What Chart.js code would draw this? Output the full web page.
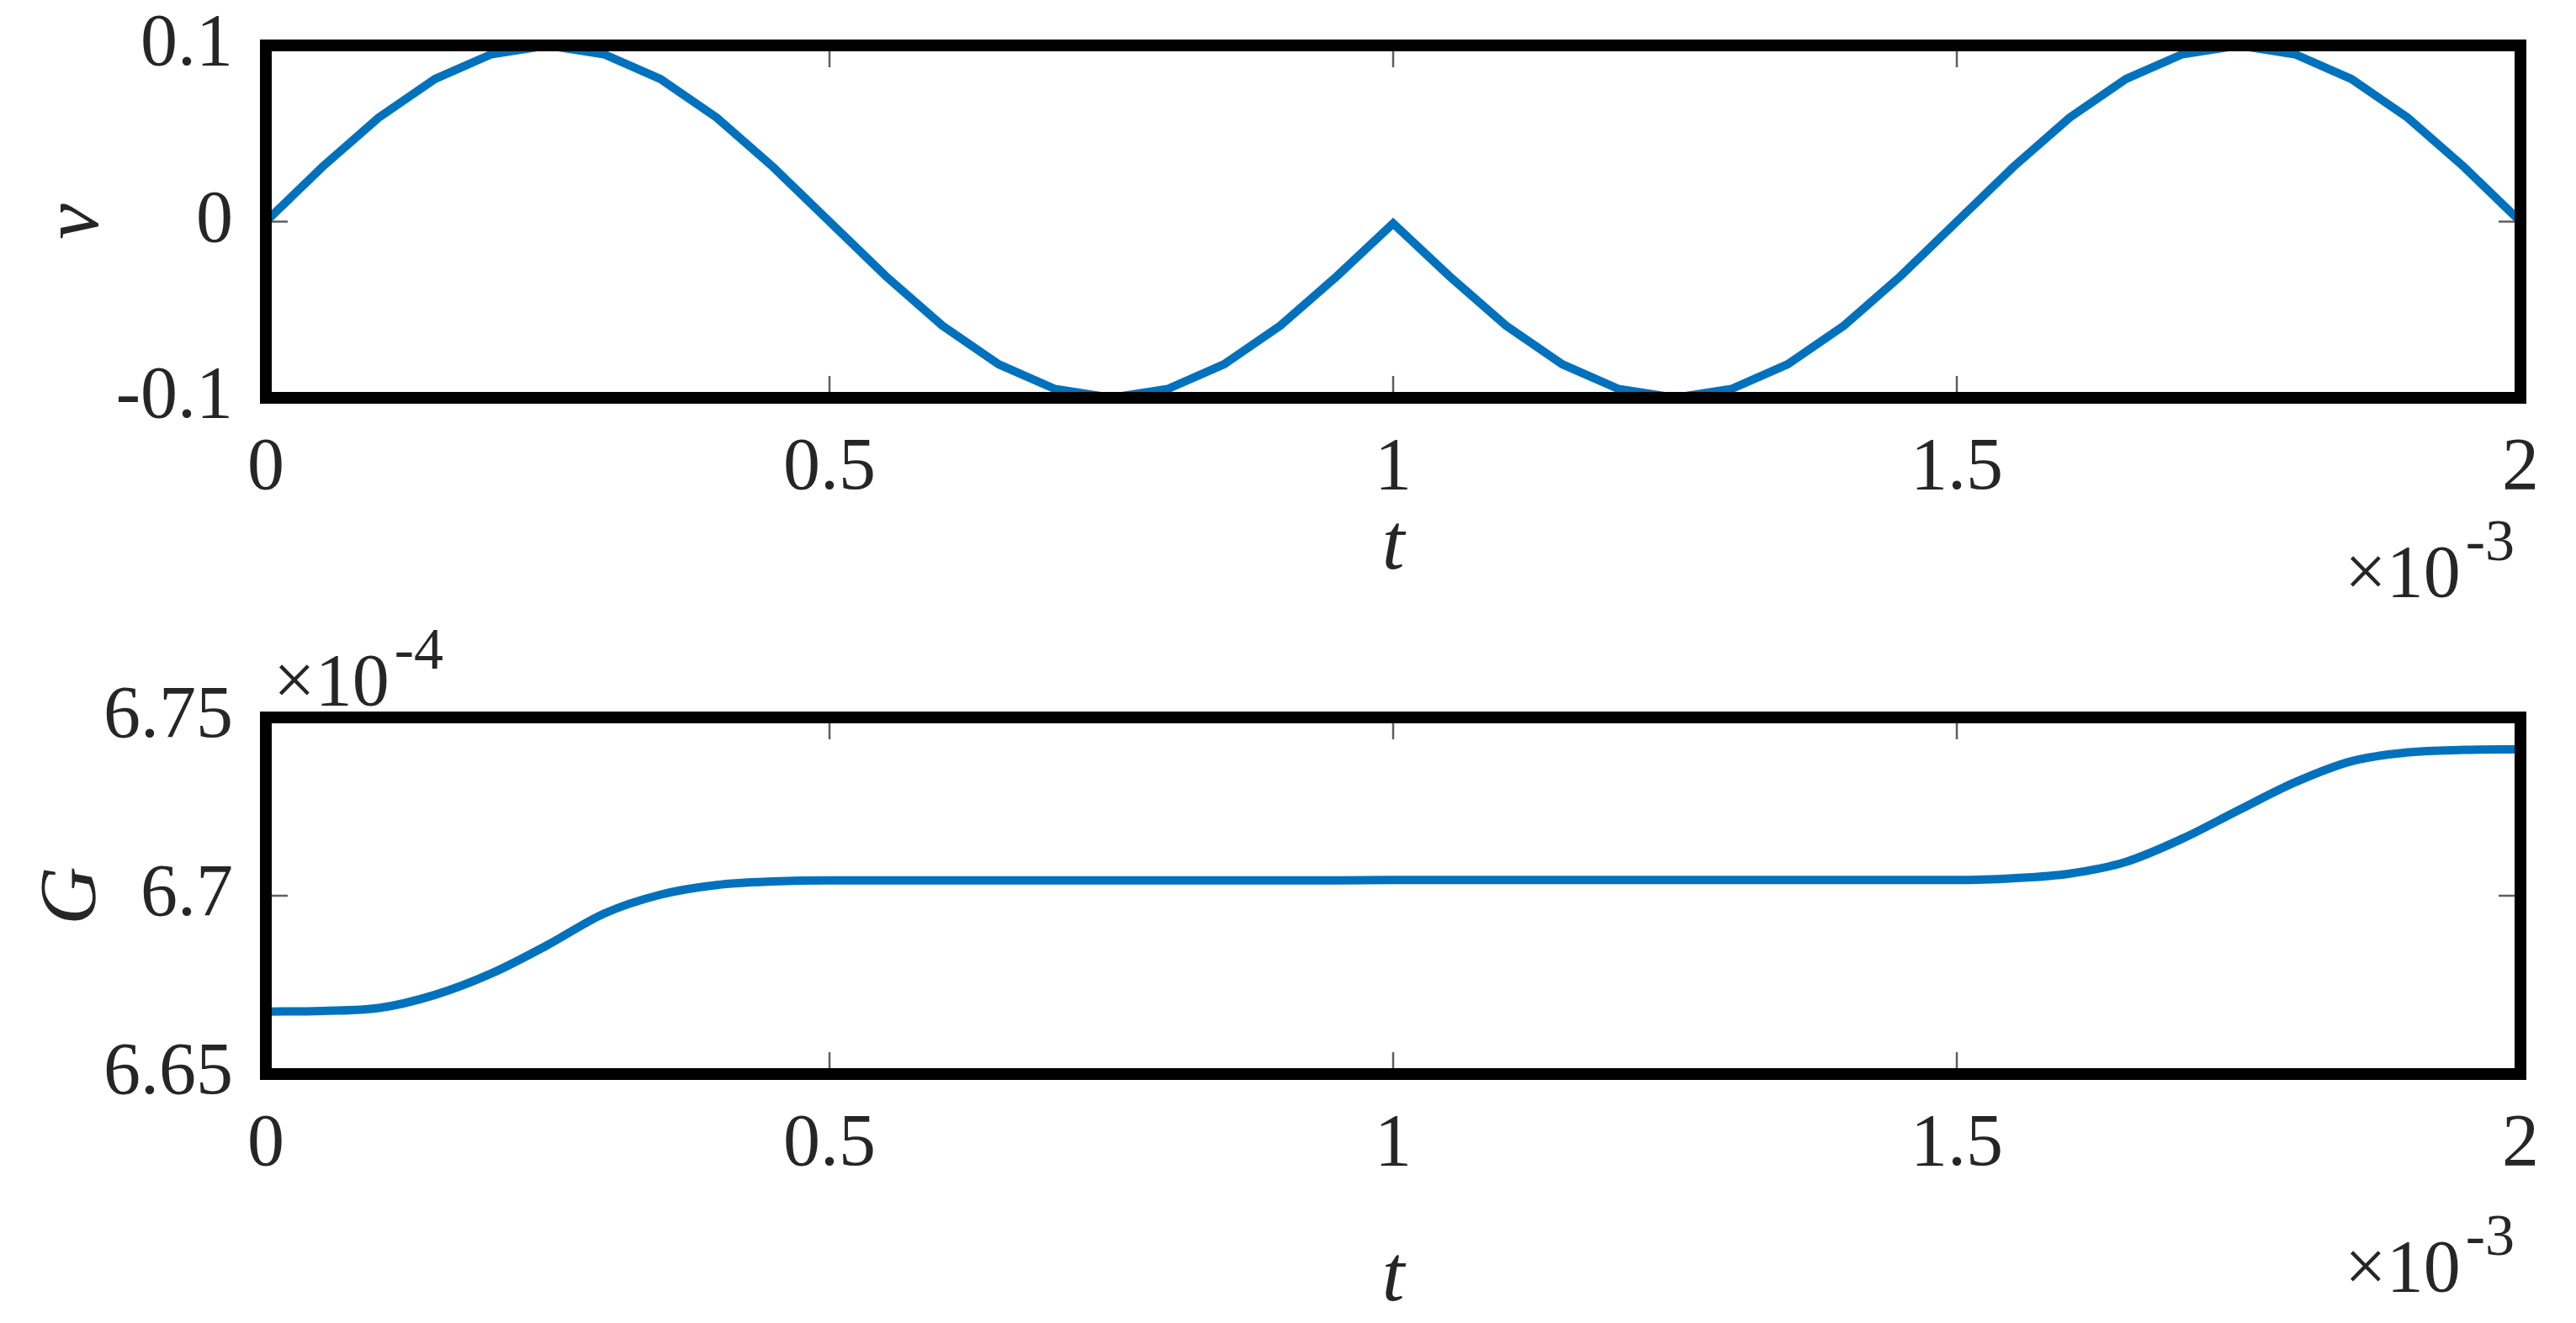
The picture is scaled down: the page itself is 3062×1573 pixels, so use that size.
<!DOCTYPE html>
<html>
<head>
<meta charset="utf-8">
<script src="https://cdn.jsdelivr.net/npm/chart.js@4.4.0/dist/chart.umd.min.js"></script>
<style>
  html, body { margin: 0; padding: 0; background: #fff; }
  #wrap { position: relative; width: 3062px; height: 1573px; overflow: hidden; }
  #wrap canvas { position: absolute; left: 0; }
</style>
</head>
<body>
<div id="wrap">
  <canvas id="vChart" width="3062" height="780" style="top:0px"></canvas>
  <canvas id="gChart" width="3062" height="900" style="top:720px"></canvas>
</div>
<script>
'use strict';

// time axis, in units of 1e-3
var tVals = [0, 0.05, 0.1, 0.15, 0.2, 0.25, 0.3, 0.35, 0.4, 0.45,
             0.5, 0.55, 0.6, 0.65, 0.7, 0.75, 0.8, 0.85, 0.9, 0.95,
             1, 1.05, 1.1, 1.15, 1.2, 1.25, 1.3, 1.35, 1.4, 1.45,
             1.5, 1.55, 1.6, 1.65, 1.7, 1.75, 1.8, 1.85, 1.9, 1.95, 2];

// v (top panel)
var vVals = [0, 0.031, 0.059, 0.081, 0.095, 0.1, 0.095, 0.081, 0.059, 0.031,
             0, -0.031, -0.059, -0.081, -0.095, -0.1, -0.095, -0.081, -0.059, -0.031,
             -0.001, -0.031, -0.059, -0.081, -0.095, -0.1, -0.095, -0.081, -0.059, -0.031,
             0, 0.031, 0.059, 0.081, 0.095, 0.1, 0.095, 0.081, 0.059, 0.031, 0];

// G (bottom panel), in units of 1e-4
var gVals = [6.6675, 6.6677, 6.6685, 6.6722, 6.6782, 6.6862, 6.6950, 6.7003, 6.7030, 6.7040,
             6.7043, 6.7043, 6.7043, 6.7043, 6.7043, 6.7043, 6.7043, 6.7043, 6.7043, 6.7043,
             6.7044, 6.7044, 6.7044, 6.7044, 6.7044, 6.7044, 6.7044, 6.7044, 6.7044, 6.7044,
             6.7044, 6.7049, 6.7062, 6.7095, 6.7160, 6.7240, 6.7318, 6.7377, 6.7402, 6.7409, 6.7411];

var xTicks = [0, 0.5, 1, 1.5, 2];
var vTicks = [-0.1, 0, 0.1];
var gTicks = [6.65, 6.7, 6.75];

var lineBlue = '#0072BD';
var textCol = '#262626';
var serif = '"Liberation Serif", "Times New Roman", serif';

Chart.defaults.font.family = serif;
Chart.defaults.color = textCol;

function fmt(v) { return String(+Number(v).toFixed(2)); }

function drawExponent(ctx, base, exp, x, y, alignRight) {
    ctx.font = '88px ' + serif;
    var w1 = ctx.measureText(base).width;
    ctx.font = '70px ' + serif;
    var w2 = ctx.measureText(exp).width;
    var gap = 6;
    var x0 = alignRight ? x - w1 - gap - w2 : x;
    ctx.fillStyle = textCol;
    ctx.textAlign = 'left';
    ctx.textBaseline = 'alphabetic';
    ctx.font = '88px ' + serif;
    ctx.fillText(base, x0, y);
    ctx.font = '70px ' + serif;
    ctx.fillText(exp, x0 + w1 + gap, y - 43);
}

// matlab style box: thick frame, inward ticks, x10^n labels
var matlabBox = {
    id: 'matlabBox',
    afterDraw: function(chart, args, opts) {
        var ctx = chart.ctx, a = chart.chartArea;
        var xs = chart.scales.x, ys = chart.scales.y;
        ctx.save();
        ctx.strokeStyle = '#5e5e5e';
        ctx.lineWidth = 2.5;
        xs.ticks.forEach(function(t) {
            if (t.value <= xs.min || t.value >= xs.max) return;
            var px = xs.getPixelForValue(t.value);
            ctx.beginPath();
            ctx.moveTo(px, a.bottom); ctx.lineTo(px, a.bottom - 26);
            ctx.moveTo(px, a.top); ctx.lineTo(px, a.top + 26);
            ctx.stroke();
        });
        ys.ticks.forEach(function(t) {
            if (t.value <= ys.min + 1e-9 || t.value >= ys.max - 1e-9) return;
            var py = ys.getPixelForValue(t.value);
            ctx.beginPath();
            ctx.moveTo(a.left, py); ctx.lineTo(a.left + 26, py);
            ctx.moveTo(a.right, py); ctx.lineTo(a.right - 26, py);
            ctx.stroke();
        });

        ctx.lineWidth = 14;
        ctx.strokeStyle = '#000';
        ctx.lineJoin = 'miter';
        ctx.strokeRect(a.left, a.top, a.width, a.height);

        if (opts.xExp) drawExponent(ctx, '\u00d710', opts.xExp, a.right - 7, a.bottom + opts.xExpDy, true);
        if (opts.yExp) drawExponent(ctx, '\u00d710', opts.yExp, a.left + 9, a.top - 15, false);
        ctx.restore();
    }
};

function makePanel(canvasId, yVals, yTicks, yLabel, cfg) {
    var points = tVals.map(function(t, i) { return {x: t, y: yVals[i]}; });
    var h = document.getElementById(canvasId).height;

    return new Chart(document.getElementById(canvasId), {
        type: 'line',
        data: {
            datasets: [{
                data: points,
                borderColor: lineBlue,
                borderWidth: 10,
                pointRadius: 0,
                fill: false,
                tension: 0,
                cubicInterpolationMode: cfg.smooth ? 'monotone' : 'default'
            }]
        },
        plugins: [matlabBox],
        options: {
            responsive: false,
            animation: false,
            devicePixelRatio: 1,
            layout: { padding: { top: cfg.top, right: 66, left: 0, bottom: 0 } },
            plugins: {
                legend: { display: false },
                tooltip: { enabled: false },
                matlabBox: { xExp: '-3', xExpDy: cfg.expDy, yExp: cfg.yExp }
            },
            scales: {
                x: {
                    type: 'linear',
                    min: xTicks[0],
                    max: xTicks[xTicks.length - 1],
                    grid: { display: false },
                    border: { display: false },
                    afterBuildTicks: function(s) { s.ticks = xTicks.map(function(v) { return {value: v}; }); },
                    ticks: {
                        font: { size: 88 },
                        color: textCol,
                        padding: cfg.xPad,
                        maxRotation: 0,
                        autoSkip: false,
                        callback: fmt
                    },
                    title: {
                        display: true,
                        text: 't',
                        color: textCol,
                        font: { size: 96, style: 'italic' },
                        padding: { top: 0, bottom: cfg.tTitlePad }
                    },
                    afterFit: function(s) { s.height = h - cfg.bottom; }
                },
                y: {
                    type: 'linear',
                    min: yTicks[0],
                    max: yTicks[yTicks.length - 1],
                    grid: { display: false },
                    border: { display: false },
                    afterBuildTicks: function(s) { s.ticks = yTicks.map(function(v) { return {value: v}; }); },
                    ticks: {
                        font: { size: 88 },
                        color: textCol,
                        padding: 31,
                        callback: fmt
                    },
                    title: {
                        display: true,
                        text: yLabel,
                        color: textCol,
                        font: { size: 96, style: 'italic' },
                        padding: { top: cfg.yTitlePad, bottom: 0 }
                    },
                    afterFit: function(s) {
                        s.width = 316;
                        s.paddingTop = 0;
                        s.paddingBottom = 0;
                    }
                }
            }
        }
    });
}

makePanel('vChart', vVals, vTicks, 'v', {
    top: 54, bottom: 473, xPad: 24, tTitlePad: 72, yTitlePad: 33, expDy: 236, smooth: false
});

makePanel('gChart', gVals, gTicks, 'G', {
    top: 133, bottom: 557, xPad: 24, tTitlePad: 42, yTitlePad: 30, expDy: 258, smooth: true, yExp: '-4'
});
</script>
</body>
</html>
